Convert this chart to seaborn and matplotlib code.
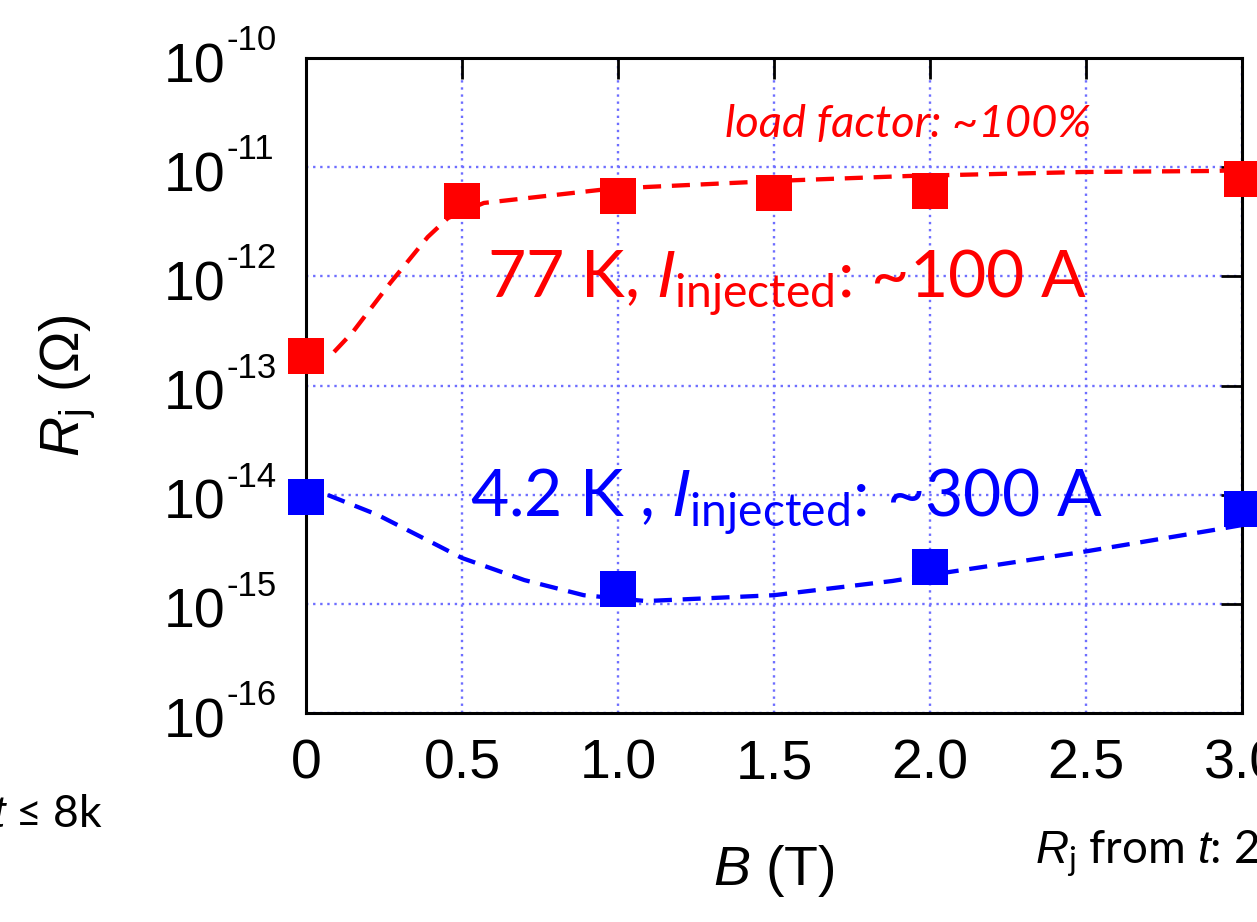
import numpy as np
import pandas as pd
import matplotlib
matplotlib.use("Agg")
import matplotlib.pyplot as plt
import matplotlib.ticker as mticker
import matplotlib.transforms as mtransforms
import seaborn as sns

# ---------------- data ----------------
B_meas = [0.0, 0.5, 1.0, 1.5, 2.0, 3.0]
R_77K = [1.86e-13, 4.9e-12, 5.5e-12, 5.8e-12, 6.1e-12, 7.8e-12]

B_meas_42 = [0.0, 1.0, 2.0, 3.0]
R_42K = [9.5e-15, 1.38e-15, 2.18e-15, 7.4e-15]

# dashed guide curves
B_fit_77 = [0.09, 0.15, 0.27, 0.39, 0.455, 0.57, 0.94, 1.09, 1.5, 1.93, 2.49, 2.91, 3.0]
R_fit_77 = [2.03e-13, 3.09e-13, 8.69e-13, 2.29e-12, 3.42e-12, 4.70e-12, 6.18e-12,
            6.58e-12, 7.47e-12, 8.30e-12, 9.03e-12, 9.23e-12, 9.42e-12]

B_fit_42 = [0.07, 0.23, 0.40, 0.50, 0.70, 0.89, 1.09, 1.5, 1.88, 2.0, 2.49, 2.91, 3.0]
R_fit_42 = [9.93e-15, 6.52e-15, 3.69e-15, 2.63e-15, 1.65e-15, 1.20e-15, 1.06e-15,
            1.20e-15, 1.62e-15, 1.84e-15, 2.99e-15, 4.75e-15, 5.27e-15]

x_ticks = [0.0, 0.5, 1.0, 1.5, 2.0, 2.5, 3.0]
x_tick_labels = ["0", "0.5", "1.0", "1.5", "2.0", "2.5", "3.0"]
y_exponents = [-16, -15, -14, -13, -12, -11, -10]

RED = "#ff0000"
BLUE = "#0000ff"
GRID = "#6e6eff"

# ---------------- style ----------------
sns.set_theme(style="white")
plt.rcParams["font.family"] = ["Liberation Sans", "DejaVu Sans"]
plt.rcParams["mathtext.fontset"] = "custom"
plt.rcParams["mathtext.rm"] = "Liberation Sans"
plt.rcParams["mathtext.it"] = "Liberation Sans:italic"
plt.rcParams["text.color"] = "black"
plt.rcParams["axes.labelcolor"] = "black"

fig = plt.figure(figsize=(12.57, 9.22), dpi=100)
ax = fig.add_axes([306 / 1257, 1 - 713 / 922, (1242 - 306) / 1257, (713 - 58) / 922])

df77 = pd.DataFrame({"B": B_meas, "R": R_77K})
df42 = pd.DataFrame({"B": B_meas_42, "R": R_42K})
f77 = pd.DataFrame({"B": B_fit_77, "R": R_fit_77})
f42 = pd.DataFrame({"B": B_fit_42, "R": R_fit_42})

ax.set_yscale("log")

sns.lineplot(data=f77, x="B", y="R", ax=ax, color=RED, lw=3.1,
             linestyle=(0, (4.2, 2.5)), sort=False, zorder=3)
sns.lineplot(data=f42, x="B", y="R", ax=ax, color=BLUE, lw=3.1,
             linestyle=(0, (4.2, 2.5)), sort=False, zorder=3)
sns.scatterplot(data=df77, x="B", y="R", ax=ax, color=RED, marker="s",
                s=700, linewidth=0, zorder=4, clip_on=False)
sns.scatterplot(data=df42, x="B", y="R", ax=ax, color=BLUE, marker="s",
                s=700, linewidth=0, zorder=4, clip_on=False)

ax.set_xlim(0, 3.0)
ax.set_ylim(1e-16, 1e-10)

ax.set_xticks(x_ticks)
ax.set_xticklabels(x_tick_labels)
y_ticks = [10.0 ** e for e in y_exponents]
ax.yaxis.set_major_locator(mticker.FixedLocator(y_ticks))
ax.yaxis.set_minor_locator(mticker.NullLocator())
ax.set_yticklabels([""] * len(y_ticks))

ax.tick_params(axis="both", which="major", direction="in", length=15, width=2,
               labelsize=40, top=True, right=True, color="black",
               labelcolor="black")
ax.tick_params(axis="x", pad=18)

# gnuplot-style y tick labels: "10" with a raised "-n" exponent
ytr = ax.get_yaxis_transform()
base_tr = mtransforms.offset_copy(ytr, fig=fig, x=-81, y=-10, units="dots")
exp_tr = mtransforms.offset_copy(ytr, fig=fig, x=-79, y=8, units="dots")
for e, yv in zip(y_exponents, y_ticks):
    ax.text(0, yv, "10", transform=base_tr, fontsize=40, ha="right",
            va="center", color="black", clip_on=False)
    ax.text(0, yv, "-%d" % abs(e), transform=exp_tr, fontsize=25, ha="left",
            va="baseline", color="black", clip_on=False)

for sp in ax.spines.values():
    sp.set_linewidth(2.2)
    sp.set_color("black")

ax.grid(True, which="major", color=GRID, linestyle=(0, (1, 2)), linewidth=1.7)
ax.set_axisbelow(True)

ax.set_xlabel(r"$B$ (T)", fontsize=40, labelpad=38)
ax.set_ylabel(r"$R_\mathregular{j}$ ($\Omega$)", fontsize=40)
ax.yaxis.set_label_coords(-0.222, 0.5)

# ---------------- annotations ----------------
cal = ["Lato", "DejaVu Sans"]
ax.text(1.343, 10 ** -10.61, "load factor: ~100%", color=RED, fontsize=32.7,
        style="italic", family=cal, ha="left", va="center")
ax.text(0.58, 10 ** -12.198, r"77 K, $I_{\mathregular{injected}}$: ~100 A",
        color=RED, fontsize=47.5, family=cal, ha="left", va="baseline")
ax.text(0.526, 10 ** -14.204, r"4.2 K , $I_{\mathregular{injected}}$: ~300 A",
        color=BLUE, fontsize=47.5, family=cal, ha="left", va="baseline")

fig.text(103 / 1257, 1 - 827 / 922, r"$t$ ≤ 8k", fontsize=32, family=cal,
         ha="right", va="baseline", color="black")
fig.text(1035 / 1257, 1 - 863 / 922, r"$R_{\mathregular{j}}$ from $t$: 2",
         fontsize=33, family=cal, ha="left", va="baseline", color="black")

fig.savefig("out.png", dpi=100)
